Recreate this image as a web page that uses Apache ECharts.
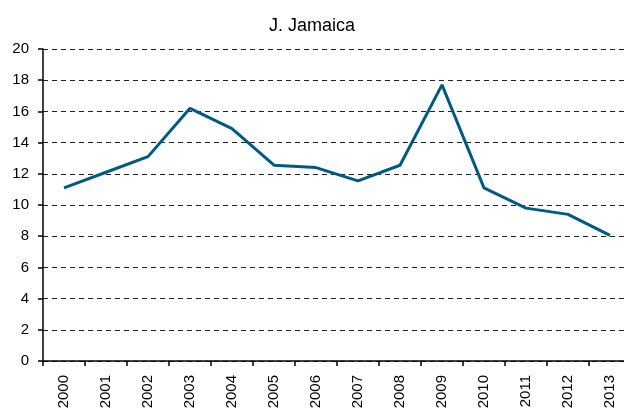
<!DOCTYPE html>
<html>
<head>
<meta charset="utf-8">
<script src="https://cdn.jsdelivr.net/npm/echarts@6/dist/echarts.min.js"></script>
<style>
  html, body { margin: 0; padding: 0; background: #fff; overflow: hidden; }
  #chart { width: 631px; height: 412px; }
</style>
</head>
<body>
<div id="chart"></div>
<script>
const years = ['2000', '2001', '2002', '2003', '2004', '2005', '2006',
  '2007', '2008', '2009', '2010', '2011', '2012', '2013']
const values = [11.1, 12.1, 13.1, 16.2, 14.9, 12.55, 12.4, 11.55, 12.55, 17.7, 11.1, 9.8, 9.4, 8.05]

const chart = echarts.init(document.getElementById('chart'))

const option = {
  animation: false,
  title: {
    text: 'J. Jamaica',
    left: 264,
    top: 12,
    textStyle: {
      fontFamily: 'Liberation Sans',
      fontSize: 18,
      fontWeight: 'normal',
      color: '#000'
    }
  },
  grid: {
    left: 43,
    right: 0,
    top: 49,
    bottom: 51
  },
  xAxis: {
    type: 'category',
    data: years,
    boundaryGap: true,
    axisLine: { lineStyle: { color: '#000', width: 1.5 } },
    axisTick: { show: true, length: 5, lineStyle: { color: '#000', width: 1.5 } },
    axisLabel: {
      rotate: 90,
      margin: 14,
      color: '#000',
      fontFamily: 'Liberation Sans',
      fontSize: 15
    }
  },
  yAxis: {
    type: 'value',
    min: 0,
    max: 20,
    interval: 2,
    axisLine: { show: true, lineStyle: { color: '#000', width: 1.5 } },
    axisTick: { show: true, length: 5, lineStyle: { color: '#000', width: 1.5 } },
    axisLabel: {
      margin: 14,
      color: '#000',
      fontFamily: 'Liberation Sans',
      fontSize: 15
    },
    splitLine: {
      lineStyle: { color: '#222', type: [5, 4], width: 1 }
    }
  },
  series: [
    {
      type: 'line',
      data: values,
      showSymbol: false,
      lineStyle: { color: '#005b84', width: 3 },
      itemStyle: { color: '#005b84' }
    }
  ]
}

chart.setOption(option)
</script>
</body>
</html>
